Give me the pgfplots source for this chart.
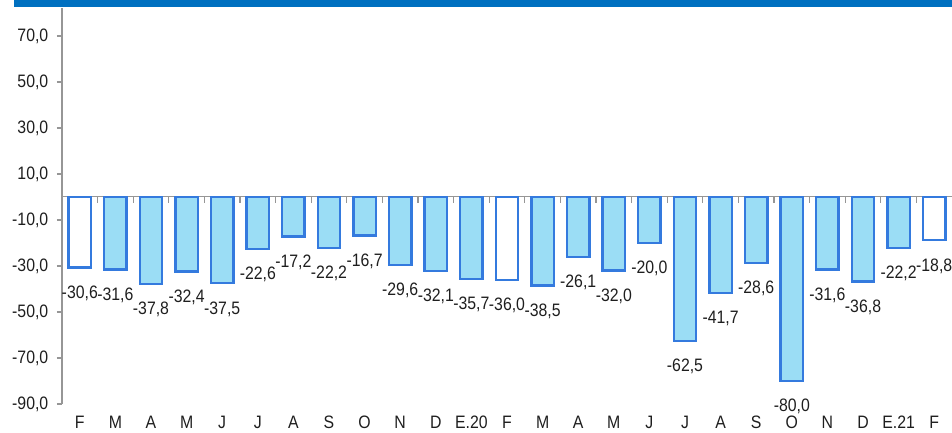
\documentclass[border=0pt]{standalone}
\usepackage{pgfplots}
\pgfplotsset{compat=1.18}
\usepackage{fontspec}
\setmainfont{Liberation Sans}[FakeStretch=0.88]
\definecolor{band}{RGB}{0,112,192}
\definecolor{barfill}{RGB}{155,221,245}
\definecolor{barline}{RGB}{52,122,222}
\definecolor{axgray}{RGB}{150,150,150}
\definecolor{txt}{RGB}{30,30,30}
\begin{document}
\begin{tikzpicture}
\path[use as bounding box] (0,0) rectangle (952bp,433bp);
\fill[band] (14bp,426bp) rectangle (952bp,433bp);
\pgfplotsset{base/.style={scale only axis, width=890bp, height=395.6bp, at={(62bp,29bp)}, anchor=south west, xmin=-0.5, xmax=24.5, ymin=-90, ymax=82}}
\begin{axis}[base, axis x line*=middle, axis y line=none, xtick={0.5,1.5,...,23.5}, xticklabels={}, ytick=\empty, xtick align=center, major tick length=6bp, x axis line style={axgray, line width=1bp}, xtick style={axgray, line width=1.2bp, yshift=-3bp}]
\end{axis}
\begin{axis}[base,
  axis lines*=left,
  x axis line style={draw=none},
  y axis line style={axgray, line width=1.2bp},
  xtick={0,...,24},
  xticklabels={F,M,A,M,J,J,A,S,O,N,D,E.20,F,M,A,M,J,J,A,S,O,N,D,E.21,F},
  xtick style={draw=none},
  ytick={-90,-70,...,70},
  ytick align=outside,
  ytick style={axgray, line width=1.2bp},
  major tick length=5bp,
  tick label style={font=\fontsize{18bp}{20bp}\selectfont, text=txt},
  xticklabel style={anchor=base, inner sep=0pt, yshift=-19bp},
  yticklabel style={anchor=east, inner sep=0pt, xshift=-8.5bp},
  /pgf/number format/fixed,
  /pgf/number format/fixed zerofill,
  /pgf/number format/precision=1,
  /pgf/number format/use comma,
  /pgf/number format/assume math mode=true,
  ybar, bar width=22.5bp, bar shift=0pt,
  nodes near coords,
  every node near coord/.append style={font=\fontsize{18bp}{20bp}\selectfont, text=txt, anchor=north, inner sep=0pt, yshift=-17bp},
]
\addplot[fill=barfill, draw=barline, line width=2.4bp] coordinates {
(1,-31.6) (2,-37.8) (3,-32.4) (4,-37.5) (5,-22.6) (6,-17.2) (7,-22.2) (8,-16.7) (9,-29.6) (10,-32.1) (11,-35.7)
(13,-38.5) (14,-26.1) (15,-32.0) (16,-20.0) (17,-62.5) (18,-41.7) (19,-28.6) (20,-80.0) (21,-31.6) (22,-36.8) (23,-22.2)
};
\addplot[fill=white, draw=barline, line width=2.4bp] coordinates {
(0,-30.6) (12,-36.0) (24,-18.8)
};
\end{axis}
\end{tikzpicture}
\end{document}
